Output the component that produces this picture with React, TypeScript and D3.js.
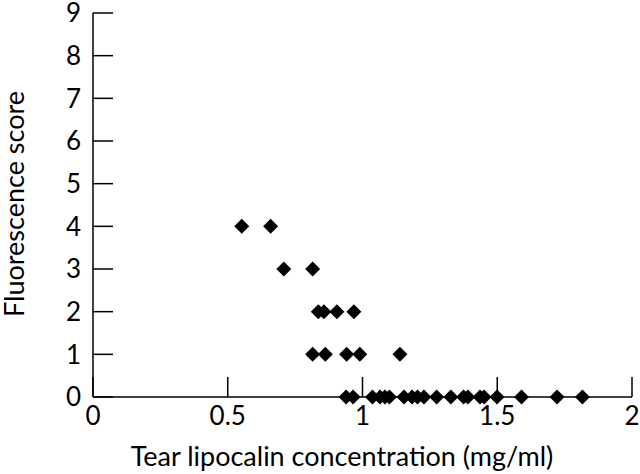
import React from "react";
import * as d3 from "d3";

const score4 = [0.552, 0.659];
const score3 = [0.708, 0.815];
const score2 = [0.836, 0.857, 0.905, 0.968];
const score1 = [0.815, 0.862, 0.941, 0.99, 1.139];
const score0 = [0.939, 0.965, 1.037, 1.065, 1.083, 1.1, 1.154, 1.184, 1.204, 1.228, 1.275, 1.328, 1.375, 1.391, 1.436, 1.451, 1.499, 1.59, 1.722, 1.816];

const xTicks = [0, 0.5, 1, 1.5, 2];
const xTickLabels = ["0", "0.5", "1", "1.5", "2"];
const yTicks = [0, 1, 2, 3, 4, 5, 6, 7, 8, 9];

const xTitle = "Tear lipocalin concentration (mg/ml)";
const yTitle = "Fluorescence score";

const W = 640;
const H = 474;
const FONT = "Lato, 'DejaVu Sans', sans-serif";

export default function App() {
  const x = d3.scaleLinear().domain([0, 2]).range([93, 632]);
  const y = d3.scaleLinear().domain([0, 9]).range([397, 13]);

  const points: { v: number; s: number }[] = [];
  const groups: [number, number[]][] = [
    [4, score4],
    [3, score3],
    [2, score2],
    [1, score1],
    [0, score0],
  ];
  groups.forEach(([s, arr]) => arr.forEach((v) => points.push({ v, s })));

  const r = 7.5;
  const diamond = `M0,${-r}L${r},0L0,${r}L${-r},0Z`;

  return (
    <svg
      width={W}
      height={H}
      style={{ position: "absolute", left: 0, top: 0, background: "#fff" }}
    >
      <rect x={0} y={0} width={W} height={H} fill="#fff" />
      <line x1={x(0)} x2={x(2)} y1={y(0)} y2={y(0)} stroke="#000" strokeWidth={1.5} />
      <line x1={x(0)} x2={x(0)} y1={y(0)} y2={y(9)} stroke="#000" strokeWidth={1.5} />
      {yTicks.map((t) => (
        <g key={"y" + t}>
          <line x1={x(0)} x2={x(0) + 20} y1={y(t)} y2={y(t)} stroke="#000" strokeWidth={1.5} />
          <text
            x={81}
            y={y(t)}
            dy="0.36em"
            textAnchor="end"
            fontFamily={FONT}
            fontSize={26}
            fill="#000"
          >
            {t}
          </text>
        </g>
      ))}
      {xTicks.map((t, i) => (
        <g key={"x" + t}>
          <line x1={x(t)} x2={x(t)} y1={y(0)} y2={y(0) - 20} stroke="#000" strokeWidth={1.5} />
          <text
            x={x(t)}
            y={425}
            textAnchor="middle"
            fontFamily={FONT}
            fontSize={26}
            fill="#000"
          >
            {xTickLabels[i]}
          </text>
        </g>
      ))}
      <text
        x={342}
        y={466}
        textAnchor="middle"
        fontFamily={FONT}
        fontSize={27}
        fill="#000"
      >
        {xTitle}
      </text>
      <text
        transform={`translate(24,204) rotate(-90)`}
        textAnchor="middle"
        fontFamily={FONT}
        fontSize={27}
        fill="#000"
      >
        {yTitle}
      </text>
      {points.map((p, i) => (
        <path
          key={i}
          d={diamond}
          transform={`translate(${x(p.v)},${y(p.s)})`}
          fill="#000"
        />
      ))}
    </svg>
  );
}
